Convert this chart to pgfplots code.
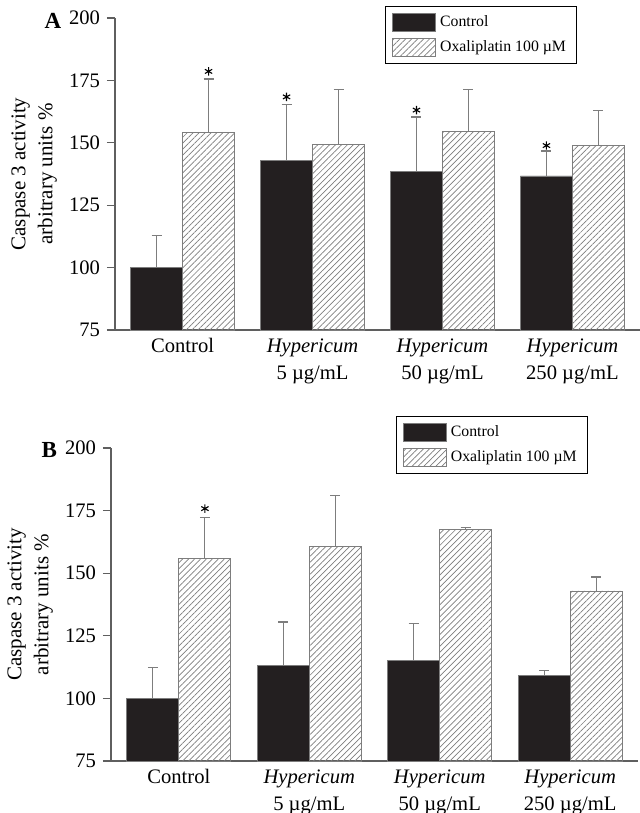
\documentclass[border=0pt]{standalone}
\usepackage{pgfplots}
\pgfplotsset{compat=1.18}
\usepackage{fontspec}
\setmainfont{Liberation Serif}
\usetikzlibrary{patterns.meta}
\definecolor{barblack}{RGB}{35,31,32}
\definecolor{edgegray}{RGB}{125,125,125}
\definecolor{axisgray}{RGB}{95,95,95}

\pgfplotsset{
  mybars/.style={
    scale only axis, clip mode=individual,
    ybar=0pt, bar width=26pt,
    ymin=75, ymax=200, ytick={75,100,...,200},
    xmin=-0.52, xmax=3.52, xtick={0,1,2,3},
    xticklabels={Control,{\textit{Hypericum}\\5 µg/mL},{\textit{Hypericum}\\50 µg/mL},{\textit{Hypericum}\\250 µg/mL}},
    xticklabel style={align=center, font=\fontsize{10.3}{13.5}\selectfont, inner sep=1pt, yshift=1pt},
    yticklabel style={font=\fontsize{10.3}{12}\selectfont},
    /pgf/number format/assume math mode=true,
    axis x line*=bottom, axis y line*=left,
    axis line style={axisgray, line width=0.75pt, -},
    xtick style={draw=none},
    ytick style={axisgray, line width=0.6pt},
    tick align=outside, major tick length=4pt,
    ylabel={Caspase 3 activity\\arbitrary units \%},
    ylabel style={align=center, font=\fontsize{10.5}{13.5}\selectfont, at={(axis description cs:-0.097,0.5)}, anchor=south},
    legend style={draw=black, line width=0.5pt, anchor=north west, font=\fontsize{7.9}{9.5}\selectfont, inner xsep=3.5pt, inner ysep=2.5pt, row sep=1.5pt, cells={anchor=west}},
    legend image code/.code={\draw[#1, line width=0.4pt] (0pt,-4.5pt) rectangle (21.5pt,4.5pt);},
  },
  blackbar/.style={fill=barblack, draw=edgegray, line width=0.4pt,
    error bars/.cd, y dir=plus, y explicit,
    error bar style={edgegray, line width=0.6pt},
    error mark options={edgegray, mark size=2.5pt, line width=0.6pt, rotate=90}},
  hatchbar/.style={pattern={Lines[angle=45,distance=2.1pt,line width=0.35pt]}, pattern color=edgegray, draw=edgegray, line width=0.4pt,
    error bars/.cd, y dir=plus, y explicit,
    error bar style={edgegray, line width=0.6pt},
    error mark options={edgegray, mark size=2.5pt, line width=0.6pt, rotate=90}},
  stars/.style={bar shift=0pt, only marks, mark=asterisk, mark size=2.1pt, black, line width=0.55pt, forget plot},
}

\begin{document}
\begin{tikzpicture}
\useasboundingbox (0pt,-406.5pt) rectangle (319.5pt,0pt);

% Panel A
\begin{axis}[mybars, at={(57.5pt,-165pt)}, anchor=south west, width=262.5pt, height=156pt,
  legend style={at={(0.514,1.038)}}]
\addplot[blackbar] coordinates {(0,100) +- (0,13) (1,143) +- (0,22.5) (2,138.7) +- (0,21.6) (3,136.7) +- (0,10)};
\addplot[hatchbar] coordinates {(0,154) +- (0,21.6) (1,149.3) +- (0,22.2) (2,154.5) +- (0,16.7) (3,148.8) +- (0,14.3)};
\addplot[stars] coordinates {(0.2,178.6) (0.8,168.4) (1.8,163.1) (2.8,148.9)};
\legend{Control, Oxaliplatin 100 µM}
\node[font=\bfseries\fontsize{11.5}{13}\selectfont] at (axis description cs:-0.118,0.99) {A};
\end{axis}

% Panel B
\begin{axis}[mybars, at={(55.5pt,-380.5pt)}, anchor=south west, width=263.5pt, height=156.5pt,
  legend style={at={(0.54,1.102)}}]
\addplot[blackbar] coordinates {(0,100) +- (0,12.5) (1,113.3) +- (0,17.2) (2,115) +- (0,15) (3,109) +- (0,2.3)};
\addplot[hatchbar] coordinates {(0,155.8) +- (0,16.6) (1,160.7) +- (0,20.3) (2,167.6) +- (0,0.8) (3,142.9) +- (0,5.6)};
\addplot[stars] coordinates {(0.2,175.8)};
\legend{Control, Oxaliplatin 100 µM}
\node[font=\bfseries\fontsize{11.5}{13}\selectfont] at (axis description cs:-0.117,0.994) {B};
\end{axis}
\end{tikzpicture}
\end{document}
